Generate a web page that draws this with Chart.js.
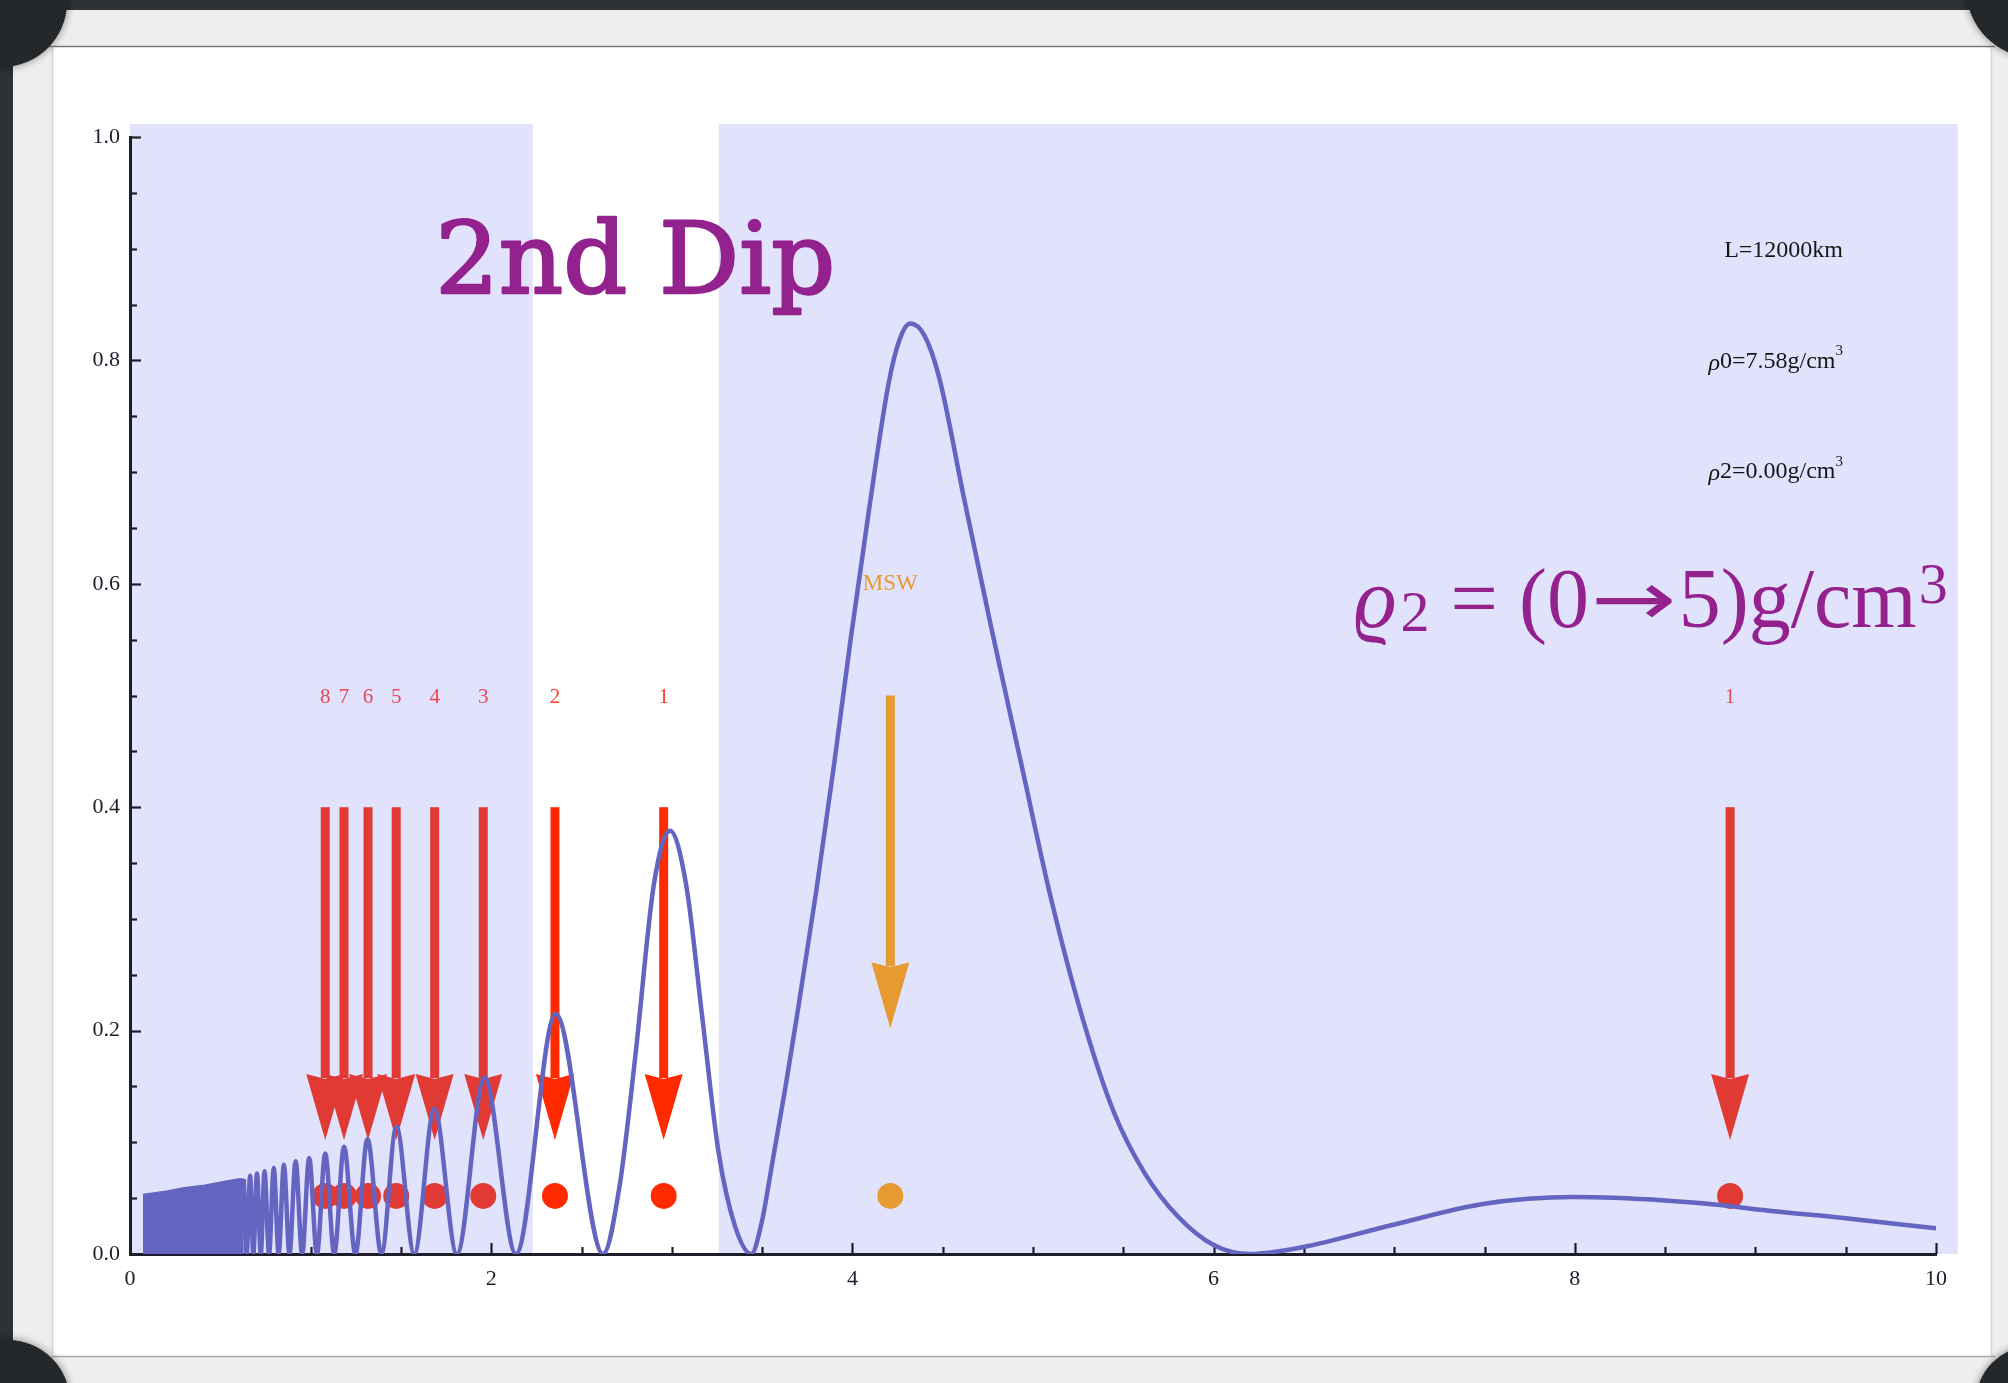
<!DOCTYPE html>
<html>
<head>
<meta charset="utf-8">
<title>Oscillation probability at L = 12000 km</title>
<script src="https://cdn.jsdelivr.net/npm/chart.js@4/dist/chart.umd.min.js"></script>
<style>
  html, body { margin: 0; padding: 0; background: #2e3235; }
  canvas { display: block; }
</style>
</head>
<body>
<canvas id="chart" width="2008" height="1383"></canvas>
<script>
// Probability curve: energy (GeV) against probability, taken at maxima, zeros and along the large lobes.
const energy = [
  0.630, 0.646, 0.665, 0.683, 0.703, 0.724, 0.745, 0.770, 0.796, 0.823,
  0.852, 0.883, 0.917, 0.953, 0.992, 1.035, 1.081, 1.131, 1.185, 1.248,
  1.315, 1.392, 1.475, 1.574, 1.685, 1.810, 1.963, 2.137, 2.357, 2.620,
  2.710, 2.800, 2.900, 2.990, 3.080, 3.170, 3.260, 3.350, 3.440,
  3.500, 3.560, 3.630, 3.690, 3.800, 3.900, 3.990, 4.090, 4.200, 4.260,
  4.320, 4.400, 4.480, 4.620, 4.770, 4.940, 5.100, 5.280, 5.450, 5.620,
  5.800, 6.000, 6.200, 6.490, 6.990, 7.500, 7.990, 8.500, 8.860, 9.000,
  9.500, 10.000
];
const probability = [
  0.067, 0.000, 0.070, 0.000, 0.072, 0.000, 0.074, 0.000, 0.077, 0.000,
  0.080, 0.000, 0.083, 0.000, 0.086, 0.000, 0.090, 0.000, 0.096, 0.000,
  0.103, 0.000, 0.114, 0.000, 0.130, 0.000, 0.158, 0.000, 0.215, 0.000,
  0.060, 0.180, 0.330, 0.379, 0.330, 0.210, 0.090, 0.025, 0.000,
  0.030, 0.085, 0.150, 0.210, 0.325, 0.440, 0.550, 0.664, 0.779, 0.818,
  0.833, 0.822, 0.785, 0.675, 0.560, 0.435, 0.318, 0.208, 0.126, 0.072,
  0.034, 0.008, 0.000, 0.006, 0.026, 0.045, 0.051, 0.048, 0.043, 0.040,
  0.032, 0.023
];

// Fast oscillations at low energy are unresolved: drawn as a filled envelope.
const envelopeEnergy = [0.072, 0.200, 0.300, 0.400, 0.500, 0.600, 0.630];
const envelopeTop    = [0.053, 0.056, 0.059, 0.061, 0.064, 0.067, 0.067];

// Expected maxima (numbered arrows) and the MSW resonance.
const peakEnergy = [1.081, 1.185, 1.318, 1.474, 1.687, 1.956, 2.353, 2.955, 8.86];
const peakLabel  = ['8', '7', '6', '5', '4', '3', '2', '1', '1'];
const mswEnergy  = [4.21];
const mswLabel   = ['MSW'];

// Levels (probability units) of the arrow marks and markers.
const arrowFrom = 0.400, arrowTo = 0.102;
const mswFrom = 0.500, mswTo = 0.202;
const labelLevel = 0.500, mswLabelLevel = 0.600;
const dotLevel = 0.052;

// Shaded energy windows.
const bandStart = [0.0, 3.26];
const bandEnd   = [2.23, 10.12];

// Axis ticks.
const xTicks = [0, 2, 4, 6, 8, 10];
const xTickLabels = ['0', '2', '4', '6', '8', '10'];
const yTicks = [0.0, 0.2, 0.4, 0.6, 0.8, 1.0];
const yTickLabels = ['0.0', '0.2', '0.4', '0.6', '0.8', '1.0'];

// Text in the plot.
const titleText = '2nd Dip';
const baseline = ['L=12000km'];
const densityLabels = [['\u03C1', '0=7.58g/cm', '3'], ['\u03C1', '2=0.00g/cm', '3']];

const CURVE = '#6464c1';
const BAND = '#e1e2fb';
const PURPLE = '#93228f';
const RED_IN_BAND = '#e13a35';
const RED_OPEN = '#ff2a00';
const ORANGE = '#e59a32';
const AXIS = '#1e1e2a';
const SERIF = '"Liberation Serif", "DejaVu Serif", serif';

function inBand(e) {
  return bandStart.some((s, i) => e >= s && e <= bandEnd[i]);
}

const backdrop = {
  id: 'backdrop',
  beforeDraw(chart) {
    const ctx = chart.ctx;
    const W = chart.width, H = chart.height;
    ctx.save();
    ctx.fillStyle = '#2e3235';
    ctx.fillRect(0, 0, W, H);
    ctx.fillStyle = '#efeeec';
    ctx.fillRect(13, 10, W - 13, H - 10);
    ctx.fillStyle = '#ffffff';
    ctx.fillRect(52, 47, 1991 - 52, 1356 - 47);
    ctx.lineWidth = 1.5;
    ctx.strokeStyle = '#7a7a7a';
    ctx.beginPath(); ctx.moveTo(40, 46.5); ctx.lineTo(1995, 46.5); ctx.stroke();
    ctx.strokeStyle = '#a8a8a8';
    ctx.beginPath(); ctx.moveTo(52, 1356.5); ctx.lineTo(1995, 1356.5); ctx.stroke();
    ctx.strokeStyle = '#d4d4d2';
    ctx.beginPath(); ctx.moveTo(52.5, 47); ctx.lineTo(52.5, 1356); ctx.stroke();
    ctx.beginPath(); ctx.moveTo(1991.5, 47); ctx.lineTo(1991.5, 1356); ctx.stroke();
    // photo corners
    ctx.fillStyle = '#25282b';
    ctx.shadowColor = 'rgba(0,0,0,0.45)';
    ctx.shadowBlur = 8;
    [[2, 2, 65], [2036, -12, 70], [8, 1402, 62], [2032, 1402, 56]].forEach(([cx, cy, r]) => {
      ctx.beginPath(); ctx.arc(cx, cy, r, 0, Math.PI * 2); ctx.fill();
    });
    ctx.restore();

    // shaded windows
    const {x, y} = chart.scales;
    ctx.save();
    ctx.fillStyle = BAND;
    bandStart.forEach((s, i) => {
      const x0 = x.getPixelForValue(s), x1 = x.getPixelForValue(bandEnd[i]);
      const y0 = y.getPixelForValue(1.0116), y1 = y.getPixelForValue(0);
      ctx.fillRect(x0, y0, x1 - x0, y1 - y0);
    });
    ctx.restore();
  }
};

// Tick marks point into the plot; minor ticks every 0.5 (x) and 0.05 (y).
const inwardTicks = {
  id: 'inwardTicks',
  beforeDatasetsDraw(chart) {
    const ctx = chart.ctx, {x, y} = chart.scales;
    const x0 = x.getPixelForValue(0), y0 = y.getPixelForValue(0);
    ctx.save();
    ctx.strokeStyle = AXIS;
    ctx.lineWidth = 2.2;
    for (let k = 0; k <= 20; k++) {
      const px = Math.round(x.getPixelForValue(k * 0.5)) + 0.5;
      const len = k % 4 === 0 ? 11 : 7;
      ctx.beginPath(); ctx.moveTo(px, y0); ctx.lineTo(px, y0 - len); ctx.stroke();
    }
    for (let k = 0; k <= 20; k++) {
      const py = Math.round(y.getPixelForValue(k * 0.05)) + 0.5;
      const len = k % 4 === 0 ? 11 : 7;
      ctx.beginPath(); ctx.moveTo(x0, py); ctx.lineTo(x0 + len, py); ctx.stroke();
    }
    ctx.restore();
  }
};

function drawArrow(ctx, px, pTop, pTip, color) {
  const headLen = 66, headHalf = 19, shaft = 9;
  const base = pTip - headLen;
  ctx.fillStyle = color;
  ctx.fillRect(px - shaft / 2, pTop, shaft, base - pTop + 4);
  ctx.beginPath();
  ctx.moveTo(px - headHalf, base);
  ctx.lineTo(px, base + 5);
  ctx.lineTo(px + headHalf, base);
  ctx.lineTo(px, pTip);
  ctx.closePath();
  ctx.fill();
}

const arrows = {
  id: 'arrows',
  beforeDatasetsDraw(chart) {
    const ctx = chart.ctx, {x, y} = chart.scales;
    ctx.save();
    peakEnergy.forEach((e, i) => {
      const px = x.getPixelForValue(e);
      const color = inBand(e) ? RED_IN_BAND : RED_OPEN;
      drawArrow(ctx, px, y.getPixelForValue(arrowFrom), y.getPixelForValue(arrowTo), color);
      ctx.font = '21px ' + SERIF;
      ctx.textAlign = 'center';
      ctx.textBaseline = 'middle';
      ctx.fillStyle = inBand(e) ? '#e6485a' : '#ff3a1a';
      ctx.fillText(peakLabel[i], px, y.getPixelForValue(labelLevel) + 2);
    });
    mswEnergy.forEach((e, i) => {
      const px = x.getPixelForValue(e);
      drawArrow(ctx, px, y.getPixelForValue(mswFrom), y.getPixelForValue(mswTo), ORANGE);
      ctx.font = '23px ' + SERIF;
      ctx.textAlign = 'center';
      ctx.textBaseline = 'middle';
      ctx.fillStyle = ORANGE;
      ctx.fillText(mswLabel[i], px, y.getPixelForValue(mswLabelLevel));
    });
    ctx.restore();
  }
};

const annotations = {
  id: 'annotations',
  afterDatasetsDraw(chart) {
    const ctx = chart.ctx, {x, y} = chart.scales;
    ctx.save();
    ctx.textBaseline = 'alphabetic';
    ctx.textAlign = 'left';

    // headline
    ctx.fillStyle = PURPLE;
    ctx.strokeStyle = PURPLE;
    ctx.lineWidth = 2.5;
    ctx.lineJoin = 'round';
    ctx.font = '100px "DejaVu Serif", serif';
    const tx = x.getPixelForValue(1.69), ty = y.getPixelForValue(0.860);
    ctx.fillText(titleText, tx, ty);
    ctx.strokeText(titleText, tx, ty);

    // density range
    let px = x.getPixelForValue(6.777);
    const py = y.getPixelForValue(0.561);
    ctx.font = 'italic 84px ' + SERIF;
    ctx.fillText('\u03F1', px, py);
    px += ctx.measureText('\u03F1').width + 4;
    ctx.font = '58px ' + SERIF;
    ctx.fillText('2', px, py + 4);
    px += ctx.measureText('2').width;
    ctx.font = '84px ' + SERIF;
    const pre = ' = (0';
    ctx.fillText(pre, px, py);
    px += ctx.measureText(pre).width + 2;
    ctx.font = '84px "DejaVu Sans", sans-serif';
    const aw = ctx.measureText('\u2192').width;
    ctx.save();
    ctx.translate(px, py - 2);
    ctx.scale(1.22, 0.9);
    ctx.fillText('\u2192', 0, 0);
    ctx.restore();
    px += aw * 1.22 + 2;
    ctx.font = '84px ' + SERIF;
    const post = '5)g/cm';
    ctx.fillText(post, px, py);
    px += ctx.measureText(post).width + 2;
    ctx.font = '58px ' + SERIF;
    ctx.fillText('3', px, py - 24);

    // parameters
    ctx.fillStyle = '#161616';
    ctx.textBaseline = 'middle';
    ctx.textAlign = 'left';
    const right = x.getPixelForValue(9.485);
    ctx.font = '24px ' + SERIF;
    const lw = ctx.measureText(baseline[0]).width;
    ctx.fillText(baseline[0], right - lw, y.getPixelForValue(0.898));
    [0.799, 0.700].forEach((lv, i) => {
      const [rho, rest, sup] = densityLabels[i];
      const cy = y.getPixelForValue(lv);
      ctx.font = '15px ' + SERIF;
      const sw = ctx.measureText(sup).width;
      ctx.font = '24px ' + SERIF;
      const rw = ctx.measureText(rest).width;
      ctx.font = 'italic 24px ' + SERIF;
      const gw = ctx.measureText(rho).width;
      let sx = right - sw - rw - gw;
      ctx.fillText(rho, sx, cy + 2);
      sx += gw;
      ctx.font = '24px ' + SERIF;
      ctx.fillText(rest, sx, cy);
      sx += rw;
      ctx.font = '15px ' + SERIF;
      ctx.fillText(sup, sx, cy - 10);
    });
    ctx.restore();
  }
};

const curvePoints = energy.map((e, i) => ({x: e, y: probability[i]}));
const envelopePoints = envelopeEnergy.map((e, i) => ({x: e, y: envelopeTop[i]}));
const peakDots = peakEnergy.map(e => ({x: e, y: dotLevel}));
const mswDots = mswEnergy.map(e => ({x: e, y: dotLevel}));

new Chart(document.getElementById('chart'), {
  type: 'line',
  data: {
    datasets: [
      {
        label: 'P',
        data: curvePoints,
        borderColor: CURVE,
        borderWidth: 4.5,
        pointRadius: 0,
        cubicInterpolationMode: 'monotone',
        fill: false,
        order: 0
      },
      {
        label: 'P (fast oscillations)',
        data: envelopePoints,
        borderColor: CURVE,
        backgroundColor: CURVE,
        borderWidth: 2,
        pointRadius: 0,
        tension: 0,
        fill: 'origin',
        order: 1
      },
      {
        type: 'scatter',
        label: 'maxima',
        data: peakDots,
        pointRadius: 13,
        pointBorderWidth: 0,
        pointBackgroundColor: peakEnergy.map(e => inBand(e) ? RED_IN_BAND : RED_OPEN),
        order: 3
      },
      {
        type: 'scatter',
        label: 'MSW',
        data: mswDots,
        pointRadius: 13,
        pointBorderWidth: 0,
        pointBackgroundColor: ORANGE,
        order: 3
      }
    ]
  },
  options: {
    responsive: false,
    animation: false,
    devicePixelRatio: 1,
    layout: {padding: {left: 0, top: 137, right: 72, bottom: 0}},
    plugins: {legend: {display: false}, tooltip: {enabled: false}},
    scales: {
      x: {
        type: 'linear', min: 0, max: 10,
        grid: {display: false, drawTicks: false},
        border: {display: true, color: AXIS, width: 3},
        afterBuildTicks: s => { s.ticks = xTicks.map(v => ({value: v})); },
        afterFit: s => { s.height = 129; },
        ticks: {
          padding: 12,
          color: '#1c1c2c',
          font: {family: SERIF, size: 22},
          maxRotation: 0,
          callback: v => xTickLabels[xTicks.indexOf(v)]
        }
      },
      y: {
        type: 'linear', min: 0, max: 1,
        grid: {display: false, drawTicks: false},
        border: {display: true, color: AXIS, width: 3},
        afterBuildTicks: s => { s.ticks = yTicks.map(v => ({value: v})); },
        afterFit: s => { s.width = 130; },
        ticks: {
          padding: 10,
          color: '#1c1c2c',
          font: {family: SERIF, size: 22},
          callback: v => yTickLabels[yTicks.findIndex(t => Math.abs(t - v) < 1e-9)]
        }
      }
    }
  },
  plugins: [backdrop, inwardTicks, arrows, annotations]
});
</script>
</body>
</html>
